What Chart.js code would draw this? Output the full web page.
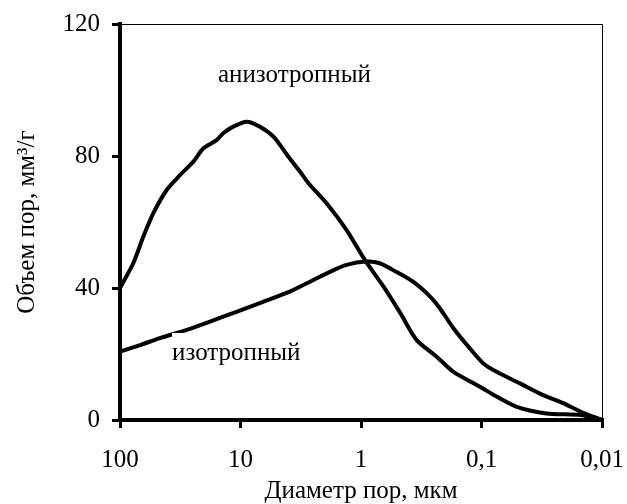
<!DOCTYPE html>
<html>
<head>
<meta charset="utf-8">
<script src="https://cdn.jsdelivr.net/npm/chart.js@4"></script>
<style>
  html, body { margin: 0; padding: 0; background: #fff; }
  #wrap { width: 627px; height: 504px; }
</style>
</head>
<body>
<div id="wrap"><canvas id="c" width="627" height="504"></canvas></div>
<script>
// pore volume vs pore diameter (log axis, reversed)
const anisoDiam = [100, 77.6, 64.1, 53.0, 41.0, 31.8, 24.6, 20.4, 15.8, 13.9, 11.5, 8.9, 6.9, 5.3, 4.1, 3.2, 2.65, 1.93, 1.32, 0.93, 0.65, 0.47, 0.345, 0.236, 0.171, 0.103, 0.075, 0.051, 0.029, 0.015, 0.01];
const anisoVol  = [40, 47.5, 55.5, 62.6, 69.7, 74.2, 78.3, 82.3, 84.8, 86.9, 88.9, 90.4, 88.9, 85.8, 80.3, 75.2, 71.2, 65.7, 57.6, 48.5, 40.4, 32.3, 24.2, 19.2, 14.6, 10.1, 7.1, 4.0, 2.0, 1.5, 0];

const isoDiam = [100, 68.2, 46.6, 27.9, 17.9, 10.8, 6.5, 3.9, 2.65, 1.81, 1.32, 0.90, 0.70, 0.51, 0.37, 0.267, 0.221, 0.171, 0.125, 0.097, 0.075, 0.048, 0.031, 0.021, 0.015, 0.01];
const isoVol  = [20.7, 22.7, 24.8, 27.3, 29.8, 32.8, 35.8, 38.9, 41.9, 44.9, 47.0, 48.0, 47.5, 44.9, 41.9, 37.4, 33.8, 27.8, 21.7, 17.2, 14.6, 11.1, 7.6, 5.1, 2.5, 0];

const xTickValues = [100, 10, 1, 0.1, 0.01];
const xTickLabels = ["100", "10", "1", "0,1", "0,01"];
const yTickValues = [0, 40, 80, 120];

const seriesNames = ["анизотропный", "изотропный"];

const FONT = "'Liberation Serif', 'Times New Roman', serif";

function toPoints(xs, ys) {
  return xs.map((x, i) => ({ x, y: ys[i] }));
}

// curve labels, written on the plot (iso one has white box like the original)
const curveLabels = {
  id: "curveLabels",
  afterDatasetsDraw(chart) {
    const { ctx, scales: { x, y } } = chart;
    ctx.save();
    ctx.font = "25px " + FONT;
    ctx.textBaseline = "alphabetic";
    ctx.textAlign = "left";

    // анизотропный
    ctx.fillStyle = "#000";
    ctx.fillText(seriesNames[0], x.getPixelForValue(15.4), y.getPixelForValue(102.4));

    // изотропный — white box behind text cuts the line
    const lx = x.getPixelForValue(37);
    const ly = y.getPixelForValue(18.2);
    const w = ctx.measureText(seriesNames[1]).width;
    ctx.fillStyle = "#fff";
    ctx.fillRect(lx, ly - 27, w + 4, 34);
    ctx.fillStyle = "#000";
    ctx.fillText(seriesNames[1], lx, ly);
    ctx.restore();
  },
};

// thin top/right frame
const frame = {
  id: "frame",
  beforeDatasetsDraw(chart) {
    const { ctx, chartArea: a } = chart;
    ctx.save();
    ctx.strokeStyle = "#000";
    ctx.lineWidth = 1;
    ctx.beginPath();
    ctx.moveTo(a.left, a.top + 0.5);
    ctx.lineTo(a.right + 0.5, a.top + 0.5);
    ctx.lineTo(a.right + 0.5, a.bottom);
    ctx.stroke();
    ctx.restore();
  },
};

const lineStyle = {
  borderColor: "#000",
  borderWidth: 4,
  pointRadius: 0,
  tension: 0.25,
  fill: false,
};

new Chart(document.getElementById("c"), {
  type: "line",
  data: {
    datasets: [
      { label: seriesNames[0], data: toPoints(anisoDiam, anisoVol), ...lineStyle },
      { label: seriesNames[1], data: toPoints(isoDiam, isoVol), ...lineStyle },
    ],
  },
  options: {
    responsive: false,
    animation: false,
    events: [],
    layout: { padding: { top: 24, right: 25, bottom: 0, left: 0 } },
    plugins: { legend: { display: false }, tooltip: { enabled: false } },
    scales: {
      x: {
        type: "logarithmic",
        reverse: true,
        min: 0.01,
        max: 100,
        afterBuildTicks: (s) => { s.ticks = xTickValues.map((v) => ({ value: v })); },
        afterFit: (s) => { s.height = 84; s.paddingLeft = 0; s.paddingRight = 0; },
        ticks: {
          color: "#000",
          font: { family: FONT, size: 25 },
          padding: 17,
          maxRotation: 0,
          autoSkip: false,
          callback: (v) => xTickLabels[xTickValues.indexOf(v)] ?? "",
        },
        grid: { drawOnChartArea: false, color: "#000", lineWidth: 3, tickLength: 8 },
        border: { color: "#000", width: 4 },
        title: {
          display: true,
          text: "Диаметр пор, мкм",
          color: "#000",
          font: { family: FONT, size: 25, lineHeight: 1 },
          padding: { top: 0, bottom: 0 },
        },
      },
      y: {
        min: 0,
        max: 120,
        afterBuildTicks: (s) => { s.ticks = yTickValues.map((v) => ({ value: v })); },
        afterFit: (s) => { s.width = 120; s.paddingTop = 0; s.paddingBottom = 0; },
        ticks: {
          color: "#000",
          font: { family: FONT, size: 25 },
          padding: 12,
        },
        grid: { drawOnChartArea: false, color: "#000", lineWidth: 3, tickLength: 8 },
        border: { color: "#000", width: 4 },
        title: {
          display: true,
          text: "Объем пор, мм³/г",
          color: "#000",
          font: { family: FONT, size: 25, lineHeight: 1 },
          padding: { top: 15, bottom: 0 },
        },
      },
    },
  },
  plugins: [frame, curveLabels],
});
</script>
</body>
</html>
